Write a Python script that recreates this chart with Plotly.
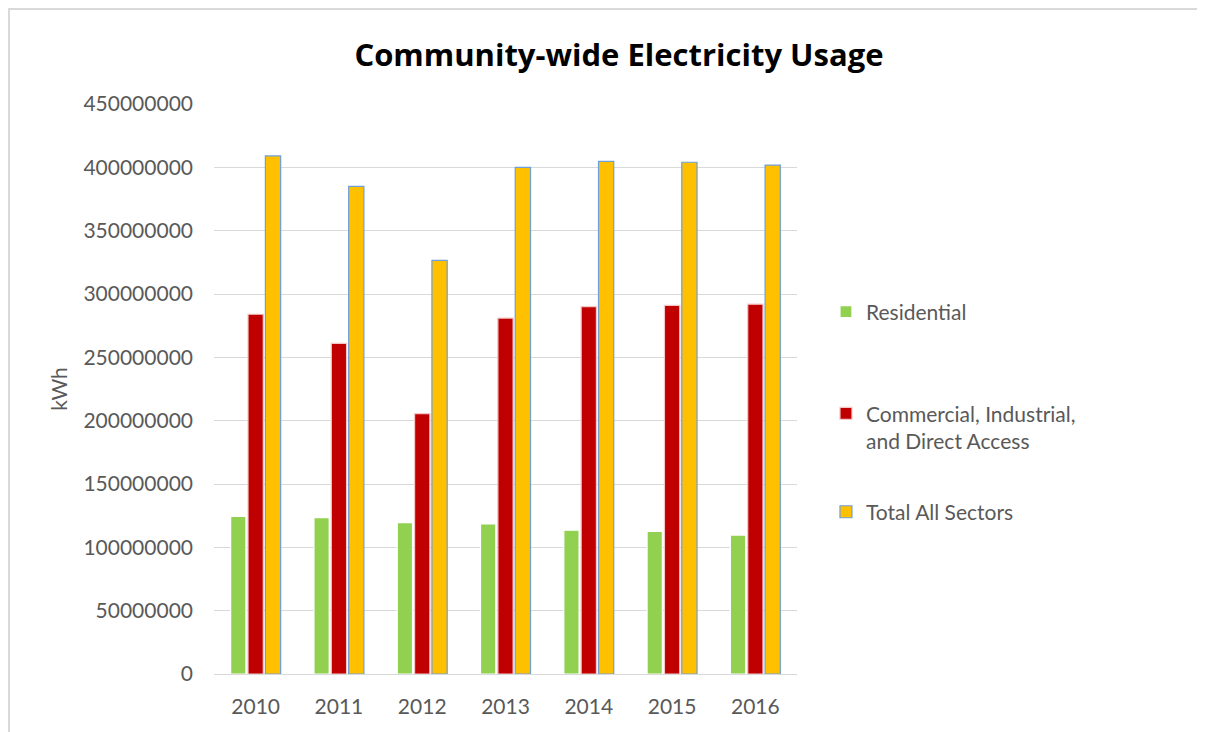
import plotly.graph_objects as go

years = ["2010", "2011", "2012", "2013", "2014", "2015", "2016"]
residential = [124500000, 123500000, 119500000, 118500000, 113500000, 112500000, 109700000]
commercial = [284000000, 261000000, 205500000, 281000000, 290000000, 291000000, 292000000]
total = [409000000, 385000000, 326600000, 400000000, 404700000, 404000000, 401800000]

series_names = ["Residential", "Commercial, Industrial,<br>and Direct Access", "Total All Sectors"]
colors = ["#92D050", "#C00000", "#FFC000"]
outline = ["#FFFFFF", "#F4C7C7", "#6F9FD8"]
legend_ids = ["legend", "legend2", "legend3"]
legend_y = [0.635, 0.433, 0.284]

y_ticks = [0, 50000000, 100000000, 150000000, 200000000, 250000000, 300000000, 350000000, 400000000, 450000000]

fig = go.Figure()
for name, vals, c, oc, lid in zip(series_names, [residential, commercial, total], colors, outline, legend_ids):
    fig.add_trace(go.Bar(
        x=years, y=vals, name=name, legend=lid,
        marker=dict(color=c, line=dict(color=oc, width=1.2)),
    ))

font_family = "Lato, 'Open Sans', sans-serif"
legend_font = dict(family=font_family, size=21, color="#595959")
legend_common = dict(x=1.0497, xanchor="left", yanchor="middle", font=legend_font,
                     itemwidth=30, bgcolor="rgba(0,0,0,0)", valign="top")

fig.update_layout(
    width=1205, height=732,
    margin=dict(l=206, r=416, t=96, b=66),
    paper_bgcolor="white", plot_bgcolor="white",
    barmode="group", bargap=0.375, bargroupgap=0.12,
    title=dict(text="<b>Community-wide Electricity Usage</b>", x=0.507, xanchor="center",
               y=0.936, yanchor="middle",
               font=dict(family="'Open Sans', sans-serif", size=31, color="#000000")),
    font=dict(family=font_family, size=21, color="#595959"),
    showlegend=True,
    legend=dict(y=legend_y[0], **legend_common),
    legend2=dict(y=legend_y[1], **legend_common),
    legend3=dict(y=legend_y[2], **legend_common),
    shapes=[dict(type="rect", xref="paper", yref="paper",
                 x0=-0.3516, x1=1.688, y0=-0.16, y1=1.1667,
                 line=dict(color="#D9D9D9", width=2))],
)
fig.update_yaxes(range=[0, 450000000], tickvals=y_ticks, tickformat="d",
                 showgrid=True, gridcolor="#D9D9D9", gridwidth=1,
                 zeroline=True, zerolinecolor="#D9D9D9", zerolinewidth=1,
                 showline=False, ticklabelstandoff=20,
                 tickfont=dict(size=21, color="#595959"),
                 title=dict(text="kWh", font=dict(size=21, color="#595959"), standoff=10))
fig.update_xaxes(showline=True, linecolor="#D9D9D9", linewidth=1, ticklabelstandoff=14,
                 tickfont=dict(size=21, color="#595959"))

fig.write_html("out.html")
